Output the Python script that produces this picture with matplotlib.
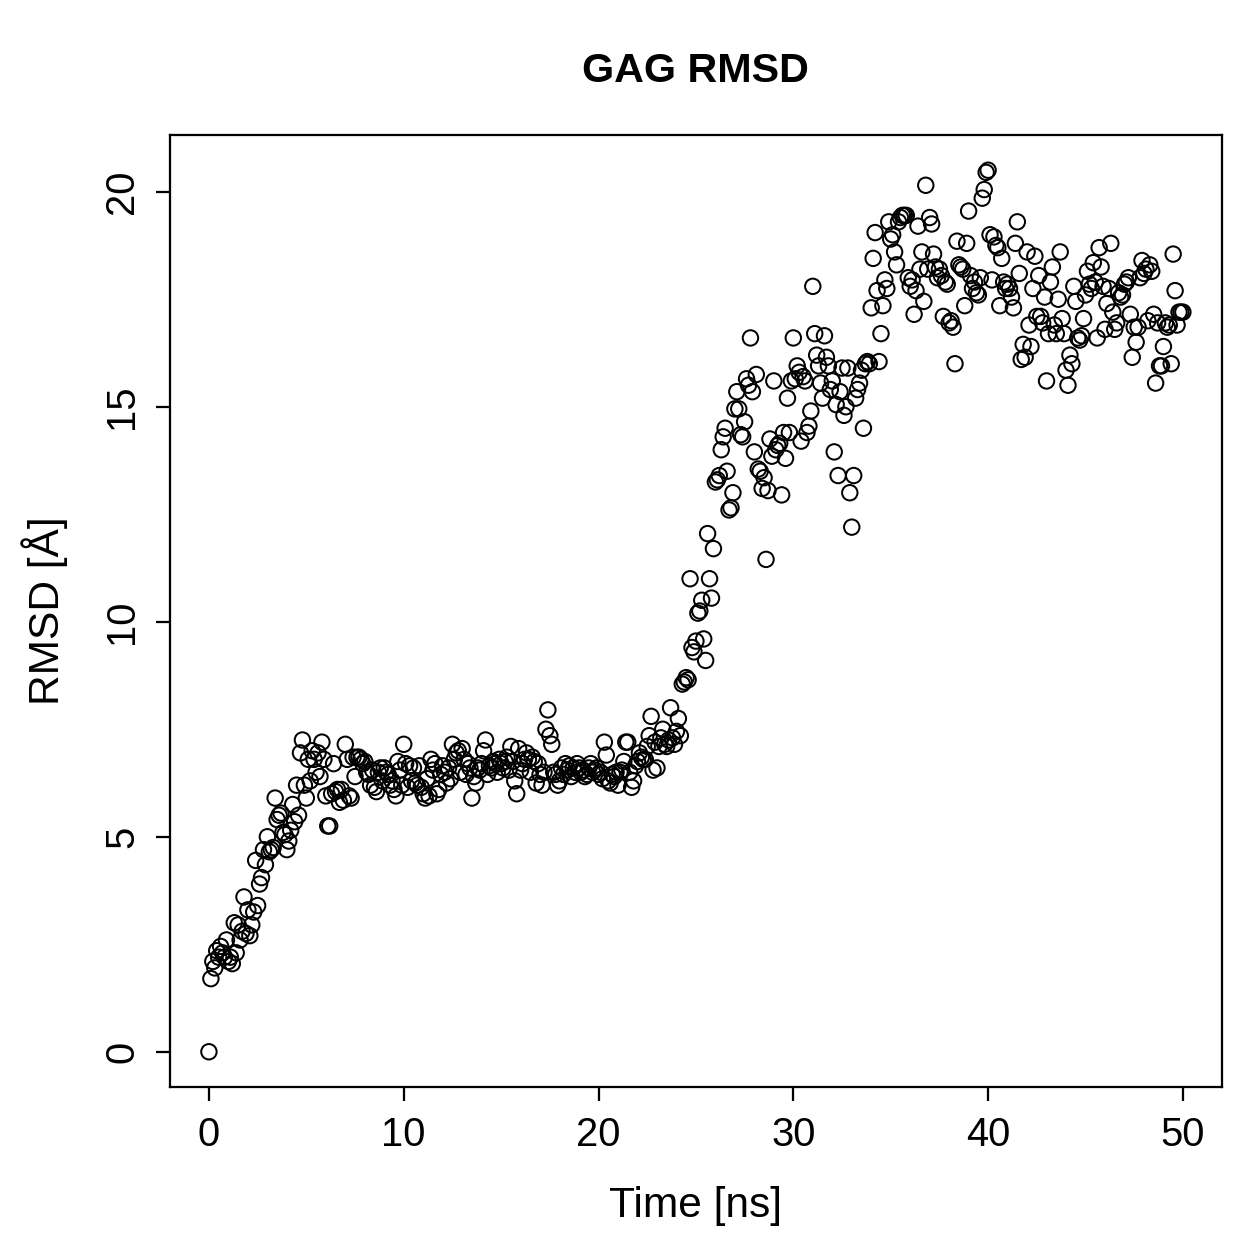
import numpy as np
import matplotlib.pyplot as plt

plt.rcParams['font.family'] = ['Liberation Sans', 'DejaVu Sans']

# RMSD per 0.1 ns frame
rmsd = [
    0.0, 1.7, 2.1, 1.95, 2.35, 2.2, 2.45, 2.3, 2.2, 2.6,
    2.1, 2.2, 2.05, 3.0, 2.3, 2.95, 2.6, 2.8, 3.6, 2.75,
    3.3, 2.7, 2.95, 3.25, 4.45, 3.4, 3.9, 4.05, 4.7, 4.35,
    5.0, 4.65, 4.7, 4.75, 5.9, 5.4, 5.5, 5.55, 5.1, 5.05,
    4.7, 4.9, 5.15, 5.75, 5.35, 6.2, 5.5, 6.95, 7.25, 6.2,
    5.9, 6.8, 6.3, 7.0, 6.8, 6.5, 6.95, 6.4, 7.2, 6.8,
    5.95, 5.25, 5.25, 6.0, 6.7, 6.05, 6.1, 5.8, 6.1, 5.85,
    7.15, 6.8, 5.95, 5.9, 6.85, 6.4, 6.85, 6.85, 6.8, 6.7,
    6.75, 6.5, 6.45, 6.2, 6.55, 6.15, 6.05, 6.5, 6.6, 6.3,
    6.6, 6.5, 6.45, 6.2, 6.3, 6.1, 5.95, 6.75, 6.55, 6.2,
    7.15, 6.7, 6.15, 6.65, 6.3, 6.6, 6.25, 6.2, 6.65, 6.15,
    6.0, 5.9, 6.35, 5.95, 6.8, 6.55, 6.7, 6.0, 6.1, 6.45,
    6.65, 6.5, 6.25, 6.6, 6.35, 7.15, 6.8, 6.95, 7.0, 6.5,
    7.05, 6.8, 6.45, 6.7, 6.6, 5.9, 6.4, 6.25, 6.6, 6.55,
    6.7, 7.0, 7.25, 6.45, 6.65, 6.6, 6.75, 6.7, 6.5, 6.8,
    6.7, 6.6, 6.75, 6.85, 6.55, 7.1, 6.75, 6.3, 6.0, 7.05,
    6.55, 6.7, 6.8, 6.95, 6.8, 6.5, 6.85, 6.75, 6.25, 6.7,
    6.45, 6.2, 6.5, 7.5, 7.95, 7.35, 7.15, 6.5, 6.45, 6.2,
    6.3, 6.6, 6.45, 6.7, 6.55, 6.65, 6.4, 6.6, 6.5, 6.7,
    6.6, 6.5, 6.55, 6.4, 6.45, 6.6, 6.7, 6.5, 6.55, 6.6,
    6.45, 6.5, 6.35, 7.2, 6.9, 6.3, 6.25, 6.45, 6.4, 6.5,
    6.2, 6.5, 6.55, 6.75, 7.2, 7.2, 6.5, 6.15, 6.3, 6.65,
    6.75, 6.95, 6.85, 6.8, 6.8, 7.1, 7.35, 7.8, 6.55, 7.2,
    6.6, 7.1, 7.3, 7.5, 7.15, 7.1, 7.25, 8.0, 7.3, 7.15,
    7.45, 7.75, 7.35, 8.55, 8.6, 8.7, 8.65, 11.0, 9.4, 9.3,
    9.55, 10.2, 10.25, 10.5, 9.6, 9.1, 12.05, 11.0, 10.55, 11.7,
    13.25, 13.3, 13.4, 14.0, 14.3, 14.5, 13.5, 12.6, 12.65, 13.0,
    14.95, 15.35, 14.95, 14.35, 14.3, 14.65, 15.65, 15.5, 16.6, 15.35,
    13.95, 15.75, 13.55, 13.5, 13.1, 13.35, 11.45, 13.05, 14.25, 13.85,
    15.6, 14.0, 14.1, 14.15, 12.95, 14.4, 13.8, 15.2, 14.4, 15.6,
    16.6, 15.65, 15.95, 15.8, 14.2, 15.7, 15.6, 14.4, 14.55, 14.9,
    17.8, 16.7, 16.2, 15.95, 15.55, 15.2, 16.65, 16.15, 15.95, 15.4,
    15.6, 13.95, 15.05, 13.4, 15.35, 15.9, 14.8, 15.0, 15.9, 13.0,
    12.2, 13.4, 15.2, 15.4, 15.55, 15.85, 14.5, 16.0, 16.05, 16.0,
    17.3, 18.45, 19.05, 17.7, 16.05, 16.7, 17.35, 17.95, 17.75, 19.3,
    18.9, 19.0, 18.6, 18.3, 19.3, 19.4, 19.45, 19.45, 19.45, 18.0,
    17.8, 17.95, 17.15, 17.7, 19.2, 18.2, 18.6, 17.45, 20.15, 18.2,
    19.4, 19.25, 18.55, 18.25, 18.0, 18.2, 18.05, 17.1, 17.9, 17.85,
    16.95, 17.0, 16.85, 16.0, 18.85, 18.3, 18.25, 18.2, 17.35, 18.8,
    19.55, 18.05, 17.75, 17.9, 17.65, 17.6, 18.0, 19.85, 20.05, 20.45,
    20.5, 19.0, 17.95, 18.95, 18.75, 18.7, 17.35, 18.45, 17.9, 17.75,
    17.85, 17.75, 17.55, 17.3, 18.8, 19.3, 18.1, 16.1, 16.45, 16.15,
    18.6, 16.9, 16.4, 17.75, 18.5, 17.1, 18.05, 17.1, 16.95, 17.55,
    15.6, 16.7, 17.9, 18.25, 16.9, 16.7, 17.5, 18.6, 17.05, 16.7,
    15.85, 15.5, 16.2, 16.0, 17.8, 17.45, 16.6, 16.55, 16.65, 17.05,
    17.6, 18.15, 17.85, 17.75, 18.35, 17.9, 16.6, 18.7, 18.25, 17.8,
    16.8, 17.4, 17.75, 18.8, 17.2, 16.8, 16.95, 17.65, 17.55, 17.6,
    17.85, 17.9, 18.0, 17.15, 16.15, 16.85, 16.5, 16.85, 18.0, 18.4,
    18.1, 18.2, 17.0, 18.3, 18.15, 17.15, 15.55, 16.95, 15.95, 15.95,
    16.4, 16.95, 16.85, 16.9, 16.0, 18.55, 17.7, 16.9, 17.2, 17.2,
    17.2,
]
time = np.arange(len(rmsd)) * 0.1

fig = plt.figure(figsize=(1259/180, 1259/180), dpi=180)
ax = fig.add_axes([0.135, 0.1366, 0.8355, 0.7562])
ax.scatter(time, rmsd, s=38, facecolors='none', edgecolors='black', linewidths=0.8)

# R style 4% padding
xmin, xmax = time.min(), time.max()
ymin, ymax = min(rmsd), max(rmsd)
ax.set_xlim(xmin - 0.04*(xmax-xmin), xmax + 0.04*(xmax-xmin))
ax.set_ylim(ymin - 0.04*(ymax-ymin), ymax + 0.04*(ymax-ymin))

ax.set_xticks(np.arange(0, 51, 10))
ax.set_yticks(np.arange(0, 21, 5))
ax.tick_params(direction='out', length=5.5, width=0.9, labelsize=16, pad=6)
plt.setp(ax.get_yticklabels(), rotation=90, va='center')
for s in ax.spines.values():
    s.set_linewidth(0.9)

ax.set_xlabel("Time [ns]", fontsize=17, labelpad=13)
ax.set_ylabel("RMSD [Å]", fontsize=17, labelpad=14)
ax.set_title("GAG RMSD", fontsize=16.5, fontweight='bold', pad=21)

plt.savefig("out.png", dpi=180)
